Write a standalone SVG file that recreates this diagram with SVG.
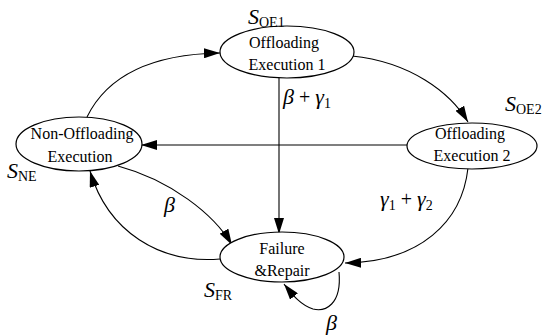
<svg xmlns="http://www.w3.org/2000/svg" width="546" height="336" viewBox="0 0 546 336">
<style>
.node ellipse{fill:#fff;stroke:#000;stroke-width:1.2}
text{fill:#000;font-family:'Liberation Serif','Times New Roman',serif}
.t{font-size:16px;text-anchor:middle}
.it{font-style:italic;font-size:22px}
.sub{font-size:14px}
.edges path{fill:none;stroke:#000;stroke-width:1.1;marker-end:url(#ah)}
</style>
<defs>
<marker id="ah" viewBox="0 0 16 10" refX="16" refY="5" markerWidth="16" markerHeight="10" markerUnits="userSpaceOnUse" orient="auto">
<path d="M0,0 L16,5 L0,10 Z" fill="#000"/>
</marker>
</defs>
<g class="edges">
<path d="M87,117 C110,70 160,54 220,53"/>
<path d="M352,56 C410,62 450,92 468,122"/>
<path d="M279,78 L279,234"/>
<path d="M407,145 L141,145"/>
<path d="M468,168 C462,222 420,262 345,263"/>
<path d="M118,166 C170,180 214,214 232,245"/>
<path d="M220,259 C160,264 108,232 90,171"/>
<path d="M339,272 C342,305 325,312 313,309 C300,305 292,294 284,284"/>
</g>
<g id="n-oe1" class="node"><ellipse cx="287" cy="52" rx="67" ry="26"/><text class="t" x="284" y="48">Offloading</text><text class="t" x="287" y="70">Execution 1</text></g>
<g id="n-ne" class="node"><ellipse cx="79" cy="144" rx="63" ry="27"/><text class="t" x="82" y="139">Non-Offloading</text><text class="t" x="80" y="162">Execution</text></g>
<g id="n-oe2" class="node"><ellipse cx="472" cy="146" rx="65" ry="23"/><text class="t" x="470" y="139">Offloading</text><text class="t" x="472" y="161">Execution 2</text></g>
<g id="n-fr" class="node"><ellipse cx="282" cy="257" rx="62" ry="25"/><text class="t" x="282" y="254">Failure</text><text class="t" x="282" y="276">&amp;Repair</text></g>
<g id="labels">
<text x="248" y="24"><tspan class="it">S</tspan><tspan class="sub" dy="3">OE1</tspan></text>
<text x="505" y="111"><tspan class="it">S</tspan><tspan class="sub" dy="3">OE2</tspan></text>
<text x="7" y="178"><tspan class="it">S</tspan><tspan class="sub" dy="3">NE</tspan></text>
<text x="204" y="297"><tspan class="it">S</tspan><tspan class="sub" dy="3">FR</tspan></text>
<text x="283" y="104"><tspan class="it">β</tspan><tspan font-size="20"> + </tspan><tspan class="it">γ</tspan><tspan class="sub" dy="4">1</tspan></text>
<text x="380" y="206"><tspan class="it">γ</tspan><tspan class="sub" dy="4">1</tspan><tspan font-size="20" dy="-4"> + </tspan><tspan class="it">γ</tspan><tspan class="sub" dy="4">2</tspan></text>
<text class="it" x="164" y="212">β</text>
<text class="it" x="326" y="330">β</text>
</g>
</svg>
